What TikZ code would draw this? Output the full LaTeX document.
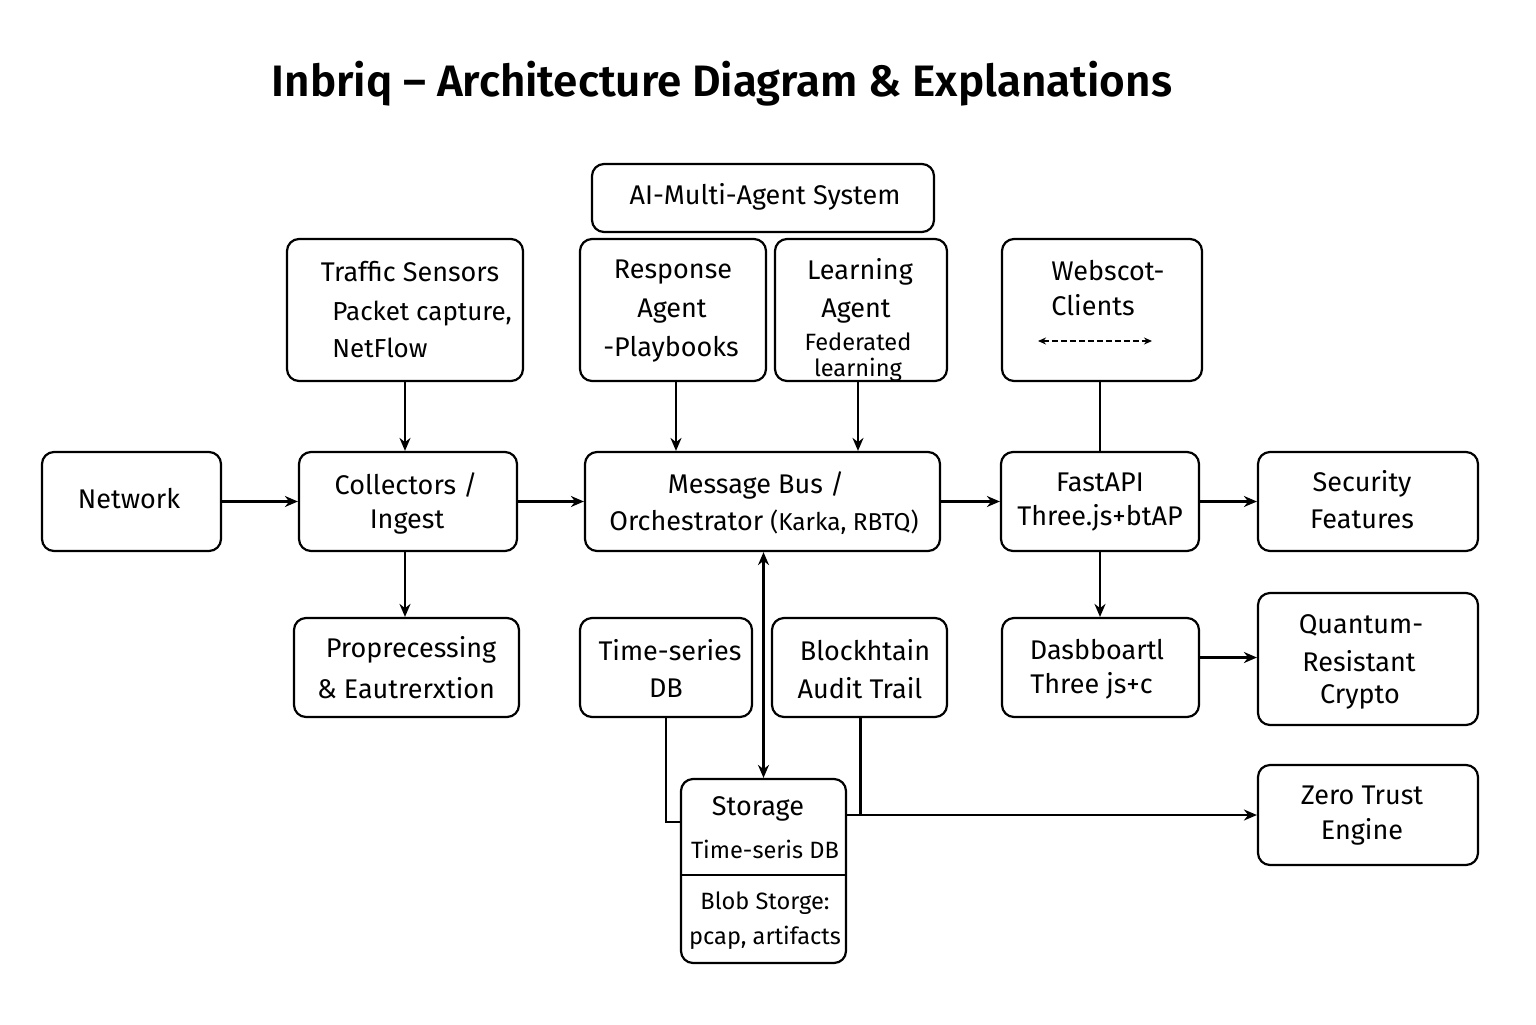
\documentclass[tikz,border=0pt]{standalone}
\usepackage{fontspec}
\setmainfont{Fira Sans}
\newfontfamily\titlefont{Fira Sans SemiBold}
\usetikzlibrary{arrows.meta,calc}
\begin{document}
\begin{tikzpicture}[x=0.5pt,y=-0.5pt,
  box/.style={draw, line width=1.1pt, rounded corners=6pt, inner sep=0pt},
  txt/.style={inner sep=0pt, font=\fontsize{13.5}{15}\selectfont},
  sml/.style={inner sep=0pt, font=\fontsize{11.8}{13}\selectfont},
  arr/.style={line width=1.05pt, -{Stealth[length=6.5pt,width=5.5pt]}},
  conn/.style={line width=1.05pt}]
\useasboundingbox (0,0) rectangle (1536,1024);
\fill[white] (0,0) rectangle (1536,1024);
% title
\node[inner sep=0pt, font=\fontsize{22}{25}\selectfont\titlefont] (title) at (722,84) {Inbriq – Architecture Diagram \& Explanations};
% boxes
\node[box, minimum width=171pt, minimum height=34pt] (ai) at (763,198) {};
\node[box, minimum width=118pt, minimum height=71pt] (ts) at (405,310) {};
\node[box, minimum width=93pt, minimum height=71pt] (ra) at (673,310) {};
\node[box, minimum width=86pt, minimum height=71pt] (la) at (861,310) {};
\node[box, minimum width=100pt, minimum height=71pt] (wc) at (1102,310) {};
\node[box, minimum width=89.5pt, minimum height=49.5pt] (net) at (131.5,501.5) {};
\node[box, minimum width=109pt, minimum height=49.5pt] (col) at (408,501.5) {};
\node[box, minimum width=177.5pt, minimum height=49.5pt] (mb) at (762.5,501.5) {};
\node[box, minimum width=99pt, minimum height=49.5pt] (fa) at (1100,501.5) {};
\node[box, minimum width=110pt, minimum height=49.5pt] (sf) at (1368,501.5) {};
\node[box, minimum width=112.5pt, minimum height=49.5pt] (pp) at (406.5,667.5) {};
\node[box, minimum width=86pt, minimum height=49.5pt] (tdb) at (666,667.5) {};
\node[box, minimum width=87.5pt, minimum height=49.5pt] (bc) at (859.5,667.5) {};
\node[box, minimum width=98.5pt, minimum height=49.5pt] (db) at (1100.5,667.5) {};
\node[box, minimum width=110pt, minimum height=66pt] (qc) at (1368,659) {};
\node[box, minimum width=110pt, minimum height=50pt] (zt) at (1368,815) {};
\node[box, minimum width=82.5pt, minimum height=92pt] (st) at (763.5,871) {};
\draw[conn] (st.west |- 0,875) -- (st.east |- 0,875);
% texts
\node[txt] (t1) at (765,197) {AI-Multi-Agent System};
\node[txt] (t2) at (410,272) {Traffic Sensors};
\node[txt, anchor=west, font=\fontsize{13}{15}\selectfont] (t3) at (332,314) {Packet capture,};
\node[txt, anchor=west, font=\fontsize{13}{15}\selectfont] (t4) at (332,348) {NetFlow};
\node[txt] (t5) at (673,272) {Response};
\node[txt] (t6) at (672,311) {Agent};
\node[txt] (t7) at (671,349) {-Playbooks};
\node[txt] (t8) at (860,272) {Learning};
\node[txt] (t9) at (856,311) {Agent};
\node[sml] (t10) at (858,342) {Federated};
\node[sml] (t11) at (858,370) {learning};
\node[txt, anchor=west] (t12) at (1051,271) {Webscot-};
\node[txt, anchor=west] (t13) at (1051,305) {Clients};
\coordinate (wl) at (1038,341);
\coordinate (wr) at (1152,341);
\draw[line width=0.6pt, dash pattern=on 3pt off 1.5pt, {Stealth[length=4pt,width=3.5pt,open]}-{Stealth[length=4pt,width=3.5pt,open]}] (wl) -- (wr);
\node[txt] (t14) at (129,499) {Network};
\node[txt] (t15) at (406,485) {Collectors /};
\node[txt] (t16) at (407,522) {Ingest};
\node[txt] (t17) at (756,485) {Message Bus /};
\node[txt] (t18) at (764,522) {Orchestrator {\fontsize{12.2}{14}\selectfont(Karka, RBTQ)}};
\node[txt] (t19) at (1100,482) {FastAPI};
\node[txt] (t20) at (1100,518) {Three.js+btAP};
\node[txt] (t21) at (1362,484) {Security};
\node[txt] (t22) at (1362,519) {Features};
\node[txt] (t23) at (411,650) {Proprecessing};
\node[txt] (t24) at (406,688) {\& Eautrerxtion};
\node[txt] (t25) at (670,650) {Time-series};
\node[txt] (t26) at (666,688) {DB};
\node[txt] (t27) at (865,650) {Blockhtain};
\node[txt] (t28) at (860,688) {Audit Trail};
\node[txt] (t29) at (1097,650) {Dasbboartl};
\node[txt, anchor=west] (t30) at (1030,686) {Three js+c};
\node[txt] (t31) at (1361,625) {Quantum-};
\node[txt] (t32) at (1359,661) {Resistant};
\node[txt] (t33) at (1360,697) {Crypto};
\node[txt] (t34) at (1362,795) {Zero Trust};
\node[txt] (t35) at (1362,832) {Engine};
\node[txt] (t36) at (758,809) {Storage};
\node[sml] (t37) at (765,849) {Time-seris DB};
\node[sml] (t38) at (765,903) {Blob Storge:};
\node[sml] (t39) at (765,938) {pcap, artifacts};
% connectors
\draw[arr] (ts.south) -- (ts.south |- col.north);
\draw[arr] ($(ra.south)+(3,0)$) -- ($(ra.south |- mb.north)+(3,0)$);
\draw[arr] ($(la.south)+(-3,0)$) -- ($(la.south |- mb.north)+(-3,0)$);
\draw[conn] ($(wc.south)+(-2,0)$) -- ($(wc.south |- fa.north)+(-2,0)$);
\draw[arr] (net.east) -- (col.west);
\draw[arr] (col.east) -- (mb.west);
\draw[arr] (mb.east) -- (fa.west);
\draw[arr] (fa.east) -- (sf.west);
\draw[arr] ($(col.south)+(-3,0)$) -- ($(col.south |- pp.north)+(-3,0)$);
\draw[line width=1.05pt, {Stealth[length=6.5pt,width=5.5pt]}-{Stealth[length=6.5pt,width=5.5pt]}] (st.north |- mb.south) -- (st.north);
\draw[arr] (fa.south) -- (fa.south |- db.north);
\draw[arr] ($(db.east)+(0,-10)$) -- ($(db.east -| qc.west)+(0,-10)$);
\draw[conn] (tdb.south) |- (st.west |- 0,822);
\draw[conn] ($(bc.south)+(1,0)$) -- ($(bc.south |- zt.west)+(1,0)$);
\draw[arr] (st.east |- zt.west) -- (zt.west);
\end{tikzpicture}
\end{document}
